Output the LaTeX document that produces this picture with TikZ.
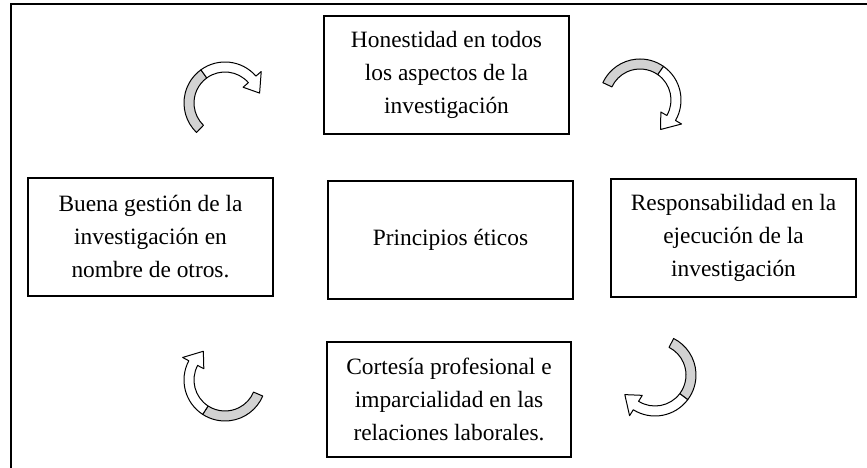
\documentclass[tikz,border=0pt]{standalone}
\usepackage{fontspec}
\setmainfont{Liberation Serif}
\usepackage{tikz}

\tikzset{
    turn/.pic={
        \filldraw[fill=gray!35, line width=1pt, line join=round]
            (0:41) arc[start angle=0, end angle=-100, radius=41]
            -- (-100:31) arc[start angle=-100, end angle=0, radius=31] -- cycle;
        \filldraw[fill=white, line width=1pt, line join=round]
            (-100:41) arc[start angle=-100, end angle=-185, radius=41]
            -- (-185:48) -- (-210:36) -- (-185:24)
            -- (-185:31) arc[start angle=-185, end angle=-100, radius=31] -- cycle;
    }
}

\begin{document}
\begin{tikzpicture}[
    x=1pt, y=1pt,
    box/.style={draw, line width=1.2pt, minimum width=245pt, minimum height=118pt,
        align=center, inner sep=0pt, font=\fontsize{23.4}{33}\selectfont}
    ]
    \useasboundingbox (0,0) rectangle (867,468);
    % marco
    \draw[line width=1.5pt] (11,0) -- (11,464) -- (867,464);

    \node[box] (hon) at (446.5,393) {Honestidad en todos\\los aspectos de la\\investigación};
    \node[box] (buena) at (150.5,231) {Buena gestión de la\\investigación en\\nombre de otros.};
    \node[box] (princ) at (450.5,228) {Principios éticos};
    \node[box] (resp) at (733.5,230) {Responsabilidad en la\\ejecución de la\\investigación};
    \node[box, minimum width=244pt, minimum height=115pt] (cort) at (449,68.5) {Cortesía profesional e\\imparcialidad en las\\relaciones laborales.};

    % flechas
    \pic[rotate=226] at (225,365) {turn};
    \pic[rotate=155] at (640,368) {turn};
    \pic[rotate=63] at (655,93) {turn};
    \pic[rotate=337] at (225,88) {turn};
\end{tikzpicture}
\end{document}
